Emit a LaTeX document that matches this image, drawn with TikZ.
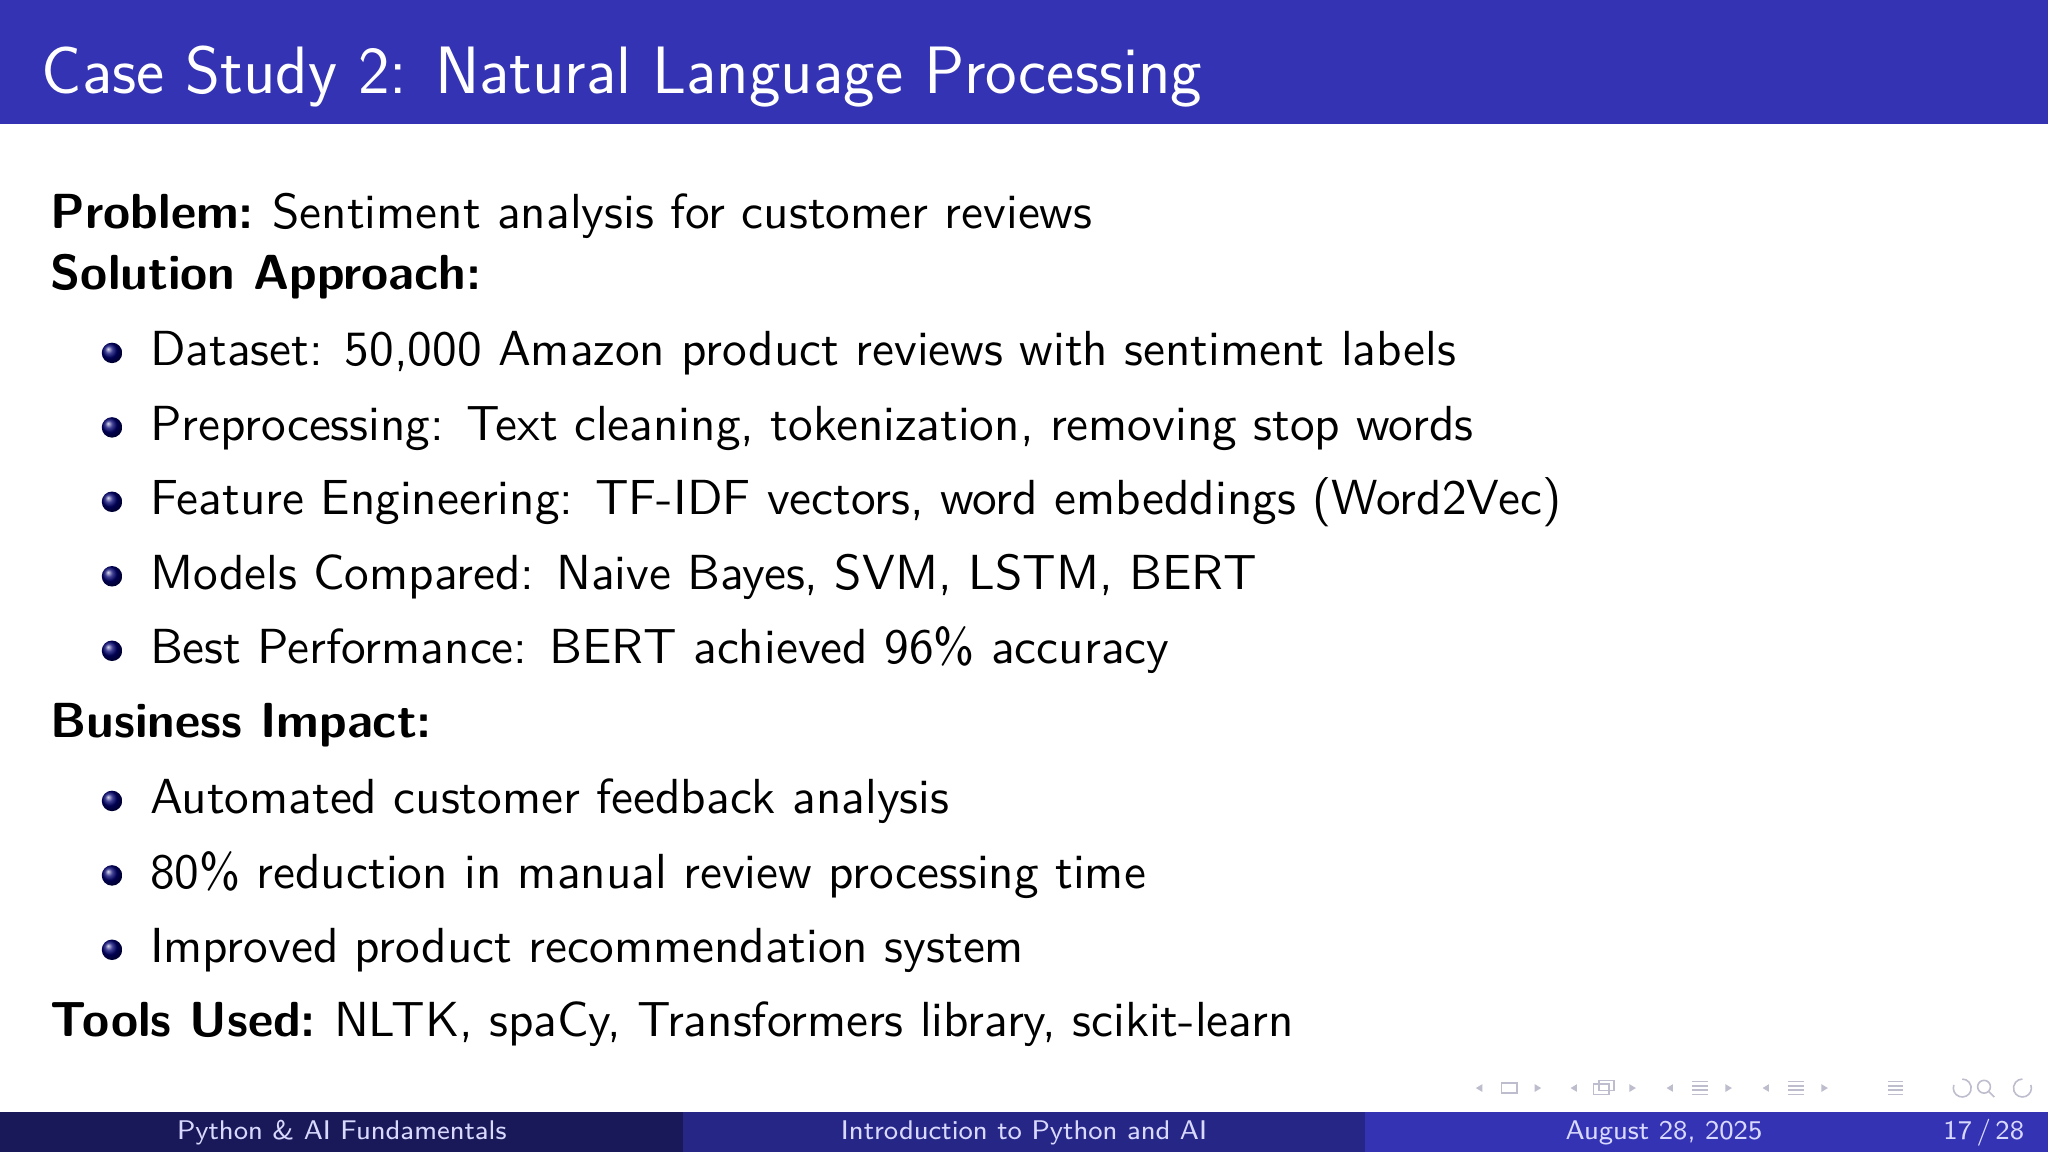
\documentclass[tikz,border=0pt]{standalone}
\usepackage{fontspec}
\setsansfont{Latin Modern Sans}
\begin{document}
\begin{tikzpicture}[x=1cm,y=-1cm,
  txt/.style={anchor=base west,inner sep=0pt,font=\sffamily\fontsize{10.95}{12}\selectfont},
  head/.style={txt,font=\sffamily\bfseries\fontsize{10.95}{12}\selectfont},
  foot/.style={anchor=base,inner sep=0pt,text=white!85!blue,font=\sffamily\fontsize{6}{7}\selectfont},
  bul/.style={circle,inner sep=0pt,minimum size=0.16cm,ball color=blue!45!black,shading=ball},
  nav/.style={draw=blue!15!gray!45,line width=0.35pt}]
\definecolor{bar}{HTML}{3333B3}
\definecolor{footA}{HTML}{191959}
\definecolor{footB}{HTML}{262686}
\useasboundingbox (0,0) rectangle (16,9);
\fill[white] (0,0) rectangle (16,9);
\fill[bar] (0,0) rectangle (16,0.97);
\node[anchor=base west,inner sep=0pt,text=white,font=\sffamily\fontsize{14.9}{17}\selectfont] (title) at (0.32,0.73) {Case Study 2: Natural Language Processing};
\node[head] (p) at (0.39,1.785) {Problem:};
\node[txt] (pt) at (p.base east) {\ Sentiment analysis for customer reviews};
\node[head] (s) at (0.39,2.265) {Solution Approach:};
\foreach \i/\y/\t in {1/2.857/{Dataset: 50,000 Amazon product reviews with sentiment labels},
  2/3.439/{Preprocessing: Text cleaning, tokenization, removing stop words},
  3/4.02/{Feature Engineering: TF-IDF vectors, word embeddings (Word2Vec)},
  4/4.602/{Models Compared: Naive Bayes, SVM, LSTM, BERT},
  5/5.184/{Best Performance: BERT achieved 96\% accuracy},
  6/6.357/{Automated customer feedback analysis},
  7/6.939/{80\% reduction in manual review processing time},
  8/7.52/{Improved product recommendation system}}{
  \node[txt] (b\i) at (1.165,\y) {\t};
  \node[bul] (d\i) at (0.875,\y-0.1) {};
}
\node[head] (bi) at (0.39,5.765) {Business Impact:};
\node[head] (tu) at (0.39,8.1) {Tools Used:};
\node[txt] (tut) at (tu.base east) {\ NLTK, spaCy, Transformers library, scikit-learn};
% footer
\fill[footA] (0,8.69) rectangle (5.333,9);
\fill[footB] (5.333,8.69) rectangle (10.667,9);
\fill[bar] (10.667,8.69) rectangle (16,9);
\node[foot] (f1) at (2.67,8.9) {Python \& AI Fundamentals};
\node[foot] (f2) at (8.0,8.9) {Introduction to Python and AI};
\node[foot] (f3) at (13.0,8.9) {August 28, 2025};
\node[foot,anchor=base east] (f4) at (15.82,8.9) {17\,/\,28};
% navigation symbols
\foreach \x in {11.53,12.27,13.02,13.77}{
  \fill[blue!15!gray!45] (\x,8.5) -- (\x+0.05,8.47) -- (\x+0.05,8.53) -- cycle;}
\foreach \x in {12.04,12.78,13.53,14.28}{
  \fill[blue!15!gray!45] (\x,8.5) -- (\x-0.05,8.47) -- (\x-0.05,8.53) -- cycle;}
\draw[nav] (11.73,8.46) rectangle (11.85,8.54);
\draw[nav] (12.45,8.47) rectangle (12.57,8.55) (12.49,8.44) rectangle (12.61,8.52);
\foreach \x in {13.22,13.97,14.75}{
  \foreach \dy in {-0.05,-0.017,0.017,0.05}{\draw[nav] (\x,8.5+\dy) -- (\x+0.12,8.5+\dy);}}
\draw[nav] (15.33,8.5) ++(200:0.07) arc (200:-90:0.07);
\draw[nav] (15.5,8.49) circle (0.05) (15.535,8.525) -- (15.58,8.57);
\draw[nav] (15.8,8.5) ++(-20:0.07) arc (-20:270:0.07);
\end{tikzpicture}
\end{document}
